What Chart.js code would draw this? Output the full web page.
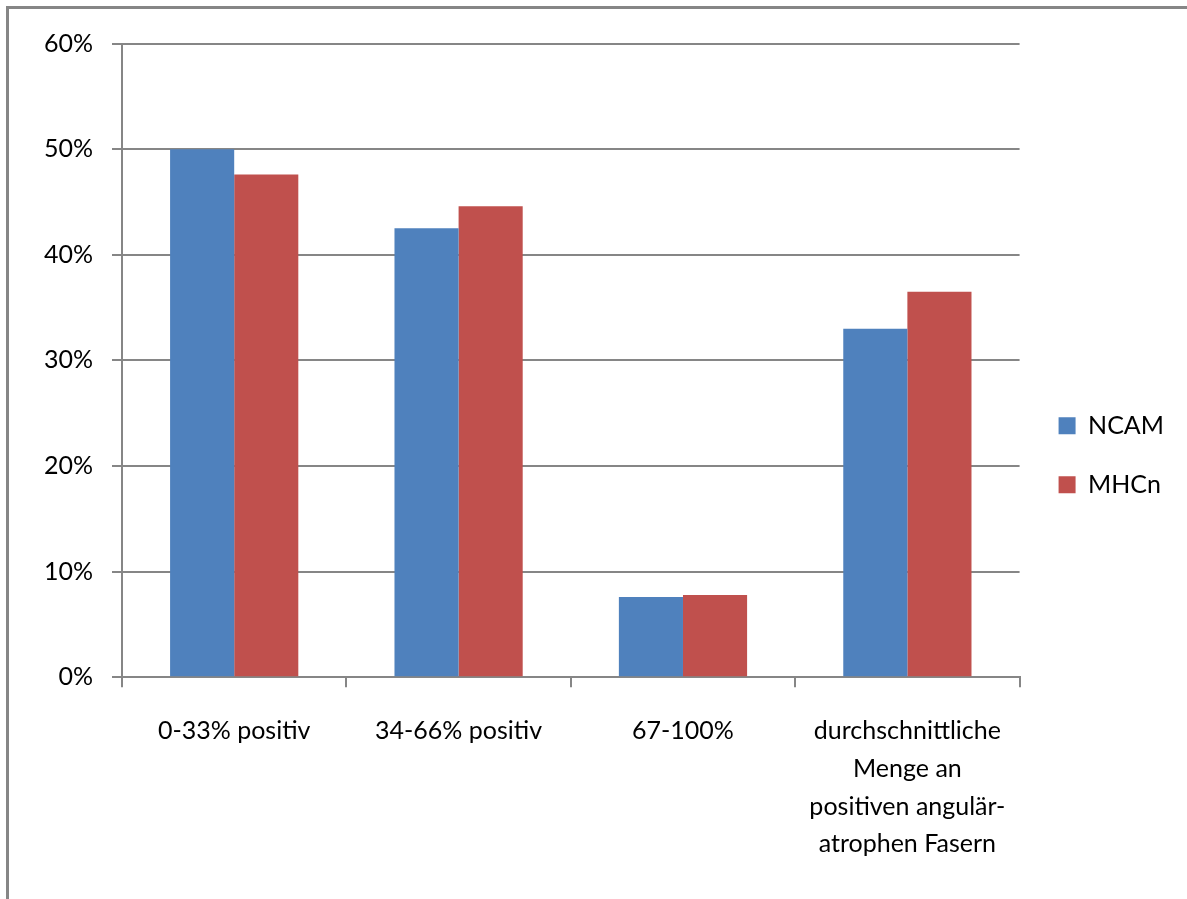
<!DOCTYPE html>
<html>
<head>
<meta charset="utf-8">
<script src="https://cdn.jsdelivr.net/npm/chart.js@4/dist/chart.umd.min.js"></script>
<style>
  html, body { margin: 0; padding: 0; background: #fff; overflow: hidden; }
  #frame {
    position: absolute; left: 6px; top: 6px; width: 1400px; height: 1100px;
    border-left: 3px solid #868686; border-top: 3px solid #868686;
  }
  #wrap { position: absolute; left: 0; top: 0; width: 1187px; height: 899px; }
</style>
</head>
<body>
<div id="frame"></div>
<div id="wrap"><canvas id="chart" width="1187" height="899"></canvas></div>
<script>
// Categories (multi-line labels as arrays)
const categories = [
  '0-33% positiv',
  '34-66% positiv',
  '67-100%',
  ['durchschnittliche', 'Menge an', 'positiven angulär-', 'atrophen Fasern']
];

// Series values in percent
const ncamValues = [50.0, 42.5, 7.6, 33.0];
const mhcnValues = [47.6, 44.6, 7.8, 36.5];

// Y-axis tick values
const yTicks = [0, 10, 20, 30, 40, 50, 60];

const seriesNames = ['NCAM', 'MHCn'];
const seriesColors = ['#4F81BD', '#C0504D'];

const axisGray = '#868686';
const FONT = 'Lato, "Open Sans", sans-serif';

// Nudges the legend block slightly after layout
const legendShift = {
  id: 'legendShift',
  afterLayout(chart) {
    const lg = chart.legend;
    if (lg) {
      lg.left += 5; lg.right += 5;
      lg.top -= 16; lg.bottom -= 16;
    }
  }
};

new Chart(document.getElementById('chart'), {
  type: 'bar',
  data: {
    labels: categories,
    datasets: [
      { label: seriesNames[0], data: ncamValues, backgroundColor: seriesColors[0] },
      { label: seriesNames[1], data: mhcnValues, backgroundColor: seriesColors[1] }
    ]
  },
  plugins: [legendShift],
  options: {
    responsive: false,
    animation: false,
    devicePixelRatio: 1,
    layout: { padding: { top: 43.5, left: 0, right: 18, bottom: 0 } },
    datasets: { bar: { categoryPercentage: 2 / 3.5, barPercentage: 1 } },
    plugins: {
      tooltip: { enabled: false },
      legend: {
        position: 'right',
        align: 'center',
        labels: {
          boxWidth: 17,
          boxHeight: 17,
          padding: 34,
          color: '#000',
          font: { family: FONT, size: 25 }
        }
      }
    },
    scales: {
      x: {
        grid: {
          offset: true,
          drawOnChartArea: false,
          drawTicks: true,
          tickLength: 10,
          color: axisGray,
          lineWidth: 2
        },
        border: { display: true, color: axisGray, width: 2 },
        ticks: {
          color: '#000',
          padding: 25,
          maxRotation: 0,
          autoSkip: false,
          font: { family: FONT, size: 25, lineHeight: 1.51 }
        },
        afterFit(scale) { scale.height = 899 - 677.3; }
      },
      y: {
        min: 0,
        max: 60,
        afterBuildTicks(scale) { scale.ticks = yTicks.map(v => ({ value: v })); },
        grid: {
          drawTicks: true,
          tickLength: 10,
          color: axisGray,
          lineWidth: 2
        },
        border: { display: true, color: axisGray, width: 2 },
        ticks: {
          color: '#000',
          padding: 19,
          font: { family: FONT, size: 25 },
          callback: (v) => v + '%'
        },
        afterFit(scale) { scale.width = 122; }
      }
    }
  }
});
</script>
</body>
</html>
